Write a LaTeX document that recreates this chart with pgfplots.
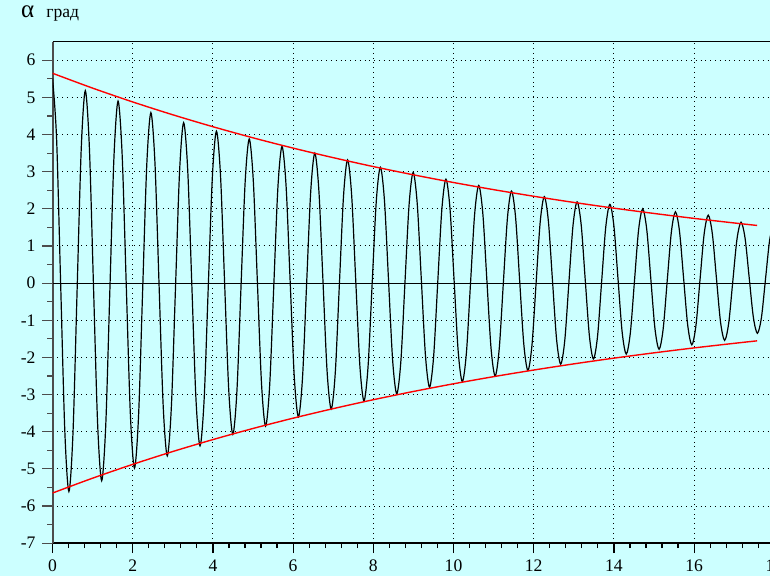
\documentclass[border=0pt]{standalone}
\usepackage{fontspec}
\setmainfont{Liberation Serif}
\usepackage{pgfplots}
\pgfplotsset{compat=1.18}
\usepackage{pgfplotstable}
\definecolor{bg}{RGB}{204,255,255}

\pgfplotstableread{
x y
0.000 5.52
0.102 3.890
0.204 -0.045
0.307 -3.980
0.409 -5.61
0.511 -4.030
0.613 -0.215
0.716 3.600
0.818 5.18
0.920 3.642
1.022 -0.07
1.125 -3.782
1.226 -5.32
1.328 -3.823
1.430 -0.21
1.533 3.403
1.635 4.90
1.737 3.453
1.839 -0.04
1.942 -3.533
2.044 -4.98
2.146 -3.578
2.248 -0.195
2.351 3.188
2.453 4.59
2.555 3.237
2.657 -0.03
2.760 -3.297
2.862 -4.65
2.964 -3.336
3.066 -0.165
3.169 3.006
3.270 4.32
3.372 3.046
3.474 -0.03
3.577 -3.106
3.679 -4.38
3.781 -3.140
3.883 -0.145
3.986 2.850
4.088 4.09
4.190 2.895
4.292 0.01
4.395 -2.875
4.497 -4.07
4.599 -2.906
4.701 -0.095
4.804 2.716
4.906 3.88
5.008 2.748
5.110 0.015
5.213 -2.718
5.314 -3.85
5.416 -2.747
5.518 -0.085
5.621 2.577
5.723 3.68
5.825 2.614
5.927 0.04
6.030 -2.534
6.132 -3.60
6.234 -2.560
6.336 -0.05
6.439 2.460
6.541 3.50
6.643 2.491
6.745 0.055
6.848 -2.381
6.950 -3.39
7.052 -2.407
7.154 -0.035
7.257 2.337
7.358 3.32
7.460 2.370
7.562 0.075
7.665 -2.220
7.767 -3.17
7.869 -2.249
7.971 -0.025
8.074 2.199
8.176 3.12
8.278 2.227
8.380 0.07
8.483 -2.087
8.585 -2.98
8.687 -2.107
8.789 0
8.892 2.107
8.994 2.98
9.096 2.134
9.198 0.09
9.301 -1.954
9.402 -2.80
9.504 -1.980
9.606 0
9.709 1.980
9.811 2.80
9.913 2.002
10.015 0.075
10.118 -1.852
10.220 -2.65
10.322 -1.877
10.424 -0.01
10.527 1.857
10.629 2.63
10.731 1.879
10.833 0.065
10.936 -1.749
11.038 -2.50
11.140 -1.771
11.242 -0.01
11.345 1.751
11.446 2.48
11.548 1.773
11.650 0.065
11.753 -1.643
11.855 -2.35
11.957 -1.665
12.059 -0.01
12.162 1.645
12.264 2.33
12.366 1.670
12.468 0.075
12.571 -1.520
12.673 -2.18
12.775 -1.540
12.877 0.005
12.980 1.550
13.082 2.19
13.184 1.571
13.286 0.075
13.389 -1.421
13.490 -2.04
13.592 -1.431
13.694 0.04
13.797 1.511
13.899 2.12
14.001 1.530
14.103 0.105
14.206 -1.320
14.308 -1.91
14.410 -1.337
14.512 0.045
14.615 1.427
14.717 2.00
14.819 1.446
14.921 0.11
15.024 -1.226
15.126 -1.78
15.228 -1.238
15.330 0.07
15.433 1.378
15.534 1.92
15.636 1.396
15.738 0.13
15.841 -1.136
15.943 -1.66
16.045 -1.149
16.147 0.085
16.250 1.319
16.352 1.83
16.454 1.336
16.556 0.145
16.659 -1.046
16.761 -1.54
16.863 -1.074
16.965 0.05
17.068 1.174
17.170 1.64
17.272 1.202
17.374 0.145
17.477 -0.912
17.578 -1.35
17.680 -0.918
17.782 0.125
17.885 1.168
17.987 1.60
}\osc

\pgfplotstableread{
x up lo
0 5.650 -5.650
1 5.250 -5.250
2 4.878 -4.878
3 4.532 -4.532
4 4.211 -4.211
5 3.912 -3.912
6 3.635 -3.635
7 3.378 -3.378
8 3.138 -3.138
9 2.916 -2.916
10 2.709 -2.709
11 2.517 -2.517
12 2.339 -2.339
13 2.173 -2.173
14 2.019 -2.019
15 1.876 -1.876
16 1.743 -1.743
17 1.620 -1.620
17.57 1.553 -1.553
}\env

\begin{document}
\begin{tikzpicture}
\fill[bg] (-26.25pt,-16.35pt) rectangle (358.75pt,271.6pt);
\node[anchor=base west, inner sep=0pt, font=\fontsize{12.5}{14}\selectfont] at (-15.9pt,262.6pt) {α};
\node[anchor=base west, inner sep=0pt, font=\fontsize{8.8}{10}\selectfont] at (-3.25pt,262.6pt) {град};
\begin{axis}[
  at={(0,0)}, anchor=south west, scale only axis,
  width=360.9pt, height=250.75pt,
  xmin=0, xmax=18, ymin=-7, ymax=6.5,
  axis x line*=box, axis y line*=left,
  every outer x axis line/.append style={-, black, line width=0.8pt},
  every outer y axis line/.append style={-, black!70, line width=1pt},
  xtick pos=left, ytick pos=left,
  tick align=outside,
  xtick={0,2,...,18},
  ytick={-7,-6,...,6},
  yticklabels={-7,-6,-5,-4,-3,-2,-1,0,1,2,3,4,5,6},
  xticklabels={0,2,4,6,8,10,12,14,16,18},
  /pgf/number format/assume math mode=true,
  minor x tick num=4, minor y tick num=1,
  major tick length=5pt, minor tick length=2.5pt,
  xtick style={black, line width=0.6pt},
  ytick style={black!70, line width=0.6pt},
  tick label style={font=\fontsize{8.8}{10}\selectfont},
  grid=major,
  major grid style={dotted, black, line width=0.5pt},
  extra y ticks={0}, extra y tick labels={},
  extra y tick style={grid=major, major grid style={solid, black, line width=0.5pt}},
]
\addplot[black, line width=0.6pt, smooth] table[x=x, y=y] {\osc};
\addplot[red, line width=0.7pt, smooth] table[x=x, y=up] {\env};
\addplot[red, line width=0.7pt, smooth] table[x=x, y=lo] {\env};
\end{axis}
\pgfresetboundingbox
\path (-26.25pt,-16.35pt) rectangle (358.75pt,271.6pt);
\end{tikzpicture}
\end{document}
